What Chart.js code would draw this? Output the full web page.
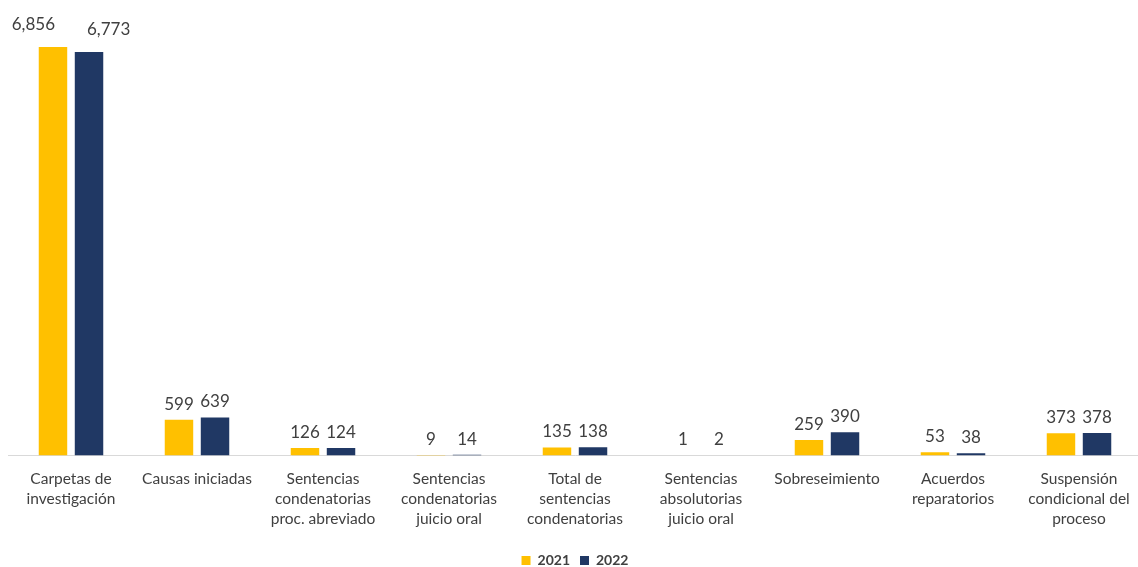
<!DOCTYPE html>
<html>
<head>
<meta charset="utf-8">
<script src="https://cdn.jsdelivr.net/npm/chart.js@4.4.1/dist/chart.umd.min.js"></script>
<style>
  html, body { margin: 0; padding: 0; background: #ffffff; overflow: hidden; }
  #wrap { position: relative; width: 1144px; height: 567px; }
</style>
</head>
<body>
<div id="wrap"><canvas id="c"></canvas></div>
<script>
const categories = [
  ["Carpetas de", "investigación"],
  ["Causas iniciadas"],
  ["Sentencias", "condenatorias", "proc. abreviado"],
  ["Sentencias", "condenatorias", "juicio oral"],
  ["Total de", "sentencias", "condenatorias"],
  ["Sentencias", "absolutorias", "juicio oral"],
  ["Sobreseimiento"],
  ["Acuerdos", "reparatorios"],
  ["Suspensión", "condicional del", "proceso"]
];
const seriesNames = ["2021", "2022"];
const values2021 = [6856, 599, 126, 9, 135, 1, 259, 53, 373];
const values2022 = [6773, 639, 124, 14, 138, 2, 390, 38, 378];

const FONT = "Lato, 'Open Sans', sans-serif";

// Draws value labels above bars; if the two labels of a category would
// collide, they are pushed apart horizontally and lifted slightly.
const valueLabels = {
  id: 'valueLabels',
  afterDatasetsDraw(chart) {
    const ctx = chart.ctx;
    ctx.save();
    ctx.font = "17px " + FONT;
    ctx.fillStyle = "#404040";
    ctx.textAlign = "center";
    ctx.textBaseline = "bottom";
    const metaA = chart.getDatasetMeta(0);
    const metaB = chart.getDatasetMeta(1);
    const dsA = chart.data.datasets[0].data;
    const dsB = chart.data.datasets[1].data;
    for (let j = 0; j < dsA.length; j++) {
      const tA = dsA[j].toLocaleString('en-US');
      const tB = dsB[j].toLocaleString('en-US');
      const eA = metaA.data[j], eB = metaB.data[j];
      let xA = eA.x, xB = eB.x, yA = eA.y - 7, yB = eB.y - 7;
      const wA = ctx.measureText(tA).width, wB = ctx.measureText(tB).width;
      const gap = (xB - wB / 2) - (xA + wA / 2);
      if (gap < 6) {
        const need = (wA / 2 + wB / 2 + 32) - (xB - xA);
        xA -= need / 2;
        xB += need / 2;
        yA -= 7; yB -= 7;
      }
      ctx.fillText(tA, xA, yA);
      ctx.fillText(tB, xB, yB);
    }
    ctx.restore();
  }
};

new Chart(document.getElementById('c'), {
  type: 'bar',
  data: {
    labels: categories,
    datasets: [
      { label: seriesNames[0], data: values2021, backgroundColor: '#FFC000', borderWidth: 0 },
      { label: seriesNames[1], data: values2022, backgroundColor: '#203864', borderWidth: 0 }
    ]
  },
  options: {
    responsive: true,
    maintainAspectRatio: false,
    animation: false,
    categoryPercentage: 0.572,
    barPercentage: 0.79,
    layout: { padding: { left: 8, right: 2, top: 38.5, bottom: -10.5 } },
    plugins: {
      legend: {
        position: 'bottom',
        labels: {
          boxWidth: 9, boxHeight: 9, padding: 10,
          color: '#404040',
          font: { family: FONT, size: 14, weight: 'bold' }
        }
      },
      tooltip: { enabled: false }
    },
    scales: {
      x: {
        grid: { display: false },
        border: { display: true, color: '#d9d9d9', width: 1 },
        afterFit(scale) { scale.height = 88; },
        ticks: {
          color: '#404040',
          padding: 5,
          maxRotation: 0,
          autoSkip: false,
          font: { family: FONT, size: 15.5, lineHeight: 1.3 }
        }
      },
      y: {
        display: false,
        min: 0,
        max: 7000
      }
    }
  },
  plugins: [valueLabels]
});
</script>
</body>
</html>
